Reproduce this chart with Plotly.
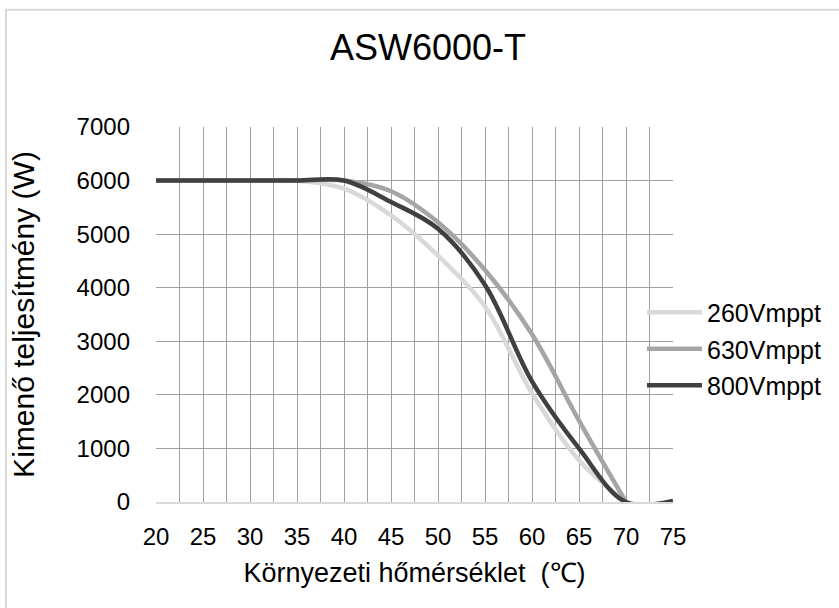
import plotly.graph_objects as go

# Derating curves: output power versus ambient temperature
temps = [20, 25, 30, 35, 40, 45, 50, 55, 60, 65, 70, 75]
p_260 = [6000, 6000, 6000, 6000, 5850, 5350, 4600, 3650, 2030, 780, 0]
p_630 = [6000, 6000, 6000, 6000, 6000, 5800, 5220, 4330, 3130, 1520, 0]
p_800 = [6000, 6000, 6000, 6000, 6000, 5600, 5100, 4050, 2250, 1000, 0, 20]

series_names = ["260Vmppt", "630Vmppt", "800Vmppt"]
series_values = [p_260, p_630, p_800]
series_colors = ["#d9d9d9", "#a5a5a5", "#404040"]

x_ticks = [20, 25, 30, 35, 40, 45, 50, 55, 60, 65, 70, 75]
y_ticks = [0, 1000, 2000, 3000, 4000, 5000, 6000, 7000]

W, H = 839, 608
L, R, T, B = 156, 673, 127.3, 502.5  # plot area in pixels

def px_x(px):
    return (px - L) / (R - L)

def px_y(py):
    return (B - py) / (B - T)

FONT = "Liberation Sans, Arial, sans-serif"

fig = go.Figure()
for name, vals, col in zip(series_names, series_values, series_colors):
    fig.add_trace(go.Scatter(
        x=temps[:len(vals)], y=vals, name=name, mode="lines",
        line=dict(color=col, width=4.5, shape="spline", smoothing=1),
        legendgroup=name,
    ))

grid = "#9f9f9f"
fig.update_layout(
    width=W, height=H,
    margin=dict(l=L, r=W - R, t=T, b=H - B),
    paper_bgcolor="white", plot_bgcolor="white",
    font=dict(family=FONT, size=24, color="#000000"),
    showlegend=True,
    legend=dict(
        x=px_x(642), y=px_y(290), xanchor="left", yanchor="top",
        bgcolor="rgba(0,0,0,0)", font=dict(size=25),
        itemwidth=55, tracegroupgap=1,
    ),
    xaxis=dict(
        range=[20, 75], tickvals=x_ticks, ticktext=[str(v) for v in x_ticks],
        showgrid=True, gridcolor=grid, gridwidth=1.3,
        minor=dict(dtick=2.5, tick0=20, showgrid=True, gridcolor=grid, gridwidth=1.3),
        showline=True, linecolor="#d9d9d9", linewidth=1.5,
        zeroline=False, ticks="", ticklabelstandoff=12,
        title=dict(text="Környezeti hőmérséklet\u00a0\u00a0(℃)", font=dict(size=27), standoff=15),
    ),
    yaxis=dict(
        range=[0, 7000], tickvals=y_ticks,
        showgrid=True, gridcolor=grid, gridwidth=1.3,
        zeroline=False, showline=False, ticks="", ticklabelstandoff=25,
        title=dict(text="Kimenő teljesítmény (W)", font=dict(size=30), standoff=33),
    ),
    title=dict(
        text="ASW6000-T", font=dict(size=36, color="#000000"),
        x=428 / W, y=1 - 47 / H, xanchor="center", yanchor="middle",
    ),
)

# chart-area frame
fig.add_shape(type="rect", xref="paper", yref="paper",
              x0=px_x(6), x1=px_x(900), y0=px_y(700), y1=px_y(10),
              line=dict(color="#d9d9d9", width=2), layer="below")

fig.write_html("out.html")
